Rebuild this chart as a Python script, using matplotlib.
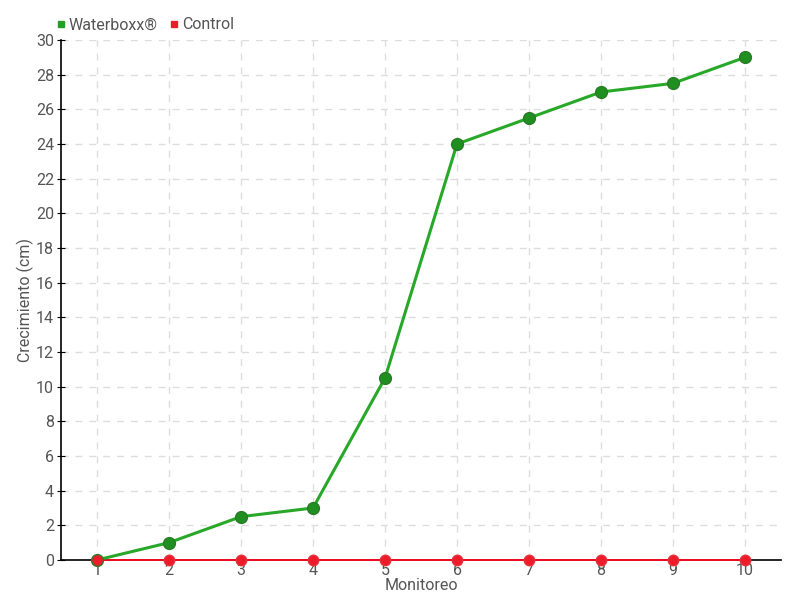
import matplotlib
matplotlib.use('Agg')
import matplotlib.pyplot as plt
from matplotlib.lines import Line2D

plt.rcParams['font.family'] = ['Roboto', 'DejaVu Sans']

monitoreo = [1, 2, 3, 4, 5, 6, 7, 8, 9, 10]
waterboxx = [0, 1, 2.5, 3, 10.5, 24, 25.5, 27, 27.5, 29]
control = [0, 0, 0, 0, 0, 0, 0, 0, 0, 0]
y_ticks = list(range(0, 31, 2))

fig = plt.figure(figsize=(8, 6), dpi=100)
ax = fig.add_axes([0.07625, 0.0667, 0.9, 0.8666])

txt = '#555555'
ax.plot(monitoreo, control, color='#ff0a1e', lw=1.3, marker='o', ms=7.5,
        mfc='#ee1c2a', mec='#e8303a', zorder=3, clip_on=False)
ax.plot(monitoreo, waterboxx, color='#28a828', lw=2.2, marker='o', ms=8.5,
        mfc='#1f8f1f', mec='#2a7a2a', mew=1, zorder=4, clip_on=False)
ax.plot(monitoreo[:1], control[:1], 'o', ms=6.5, mfc='#ee1c2a', mec='#ee1c2a', zorder=5, clip_on=False)

ax.set_xlim(0.5, 10.5)
ax.set_ylim(0, 30)
ax.set_xticks(monitoreo)
ax.set_yticks(y_ticks)
ax.grid(True, color='#dddddd', ls=(0, (5, 5)), lw=1)
ax.set_axisbelow(True)
for s in ['top', 'right']:
    ax.spines[s].set_visible(False)
ax.spines['left'].set_linewidth(1.2)
ax.spines['bottom'].set_linewidth(1.2)
ax.tick_params(axis='y', direction='inout', length=6, colors='black', labelcolor=txt, labelsize=11.5, pad=2)
ax.tick_params(axis='x', length=0, pad=2, labelcolor=txt, labelsize=11.5)

ax.set_xlabel('Monitoreo', color=txt, fontsize=11.5, labelpad=0)
ax.set_ylabel('Crecimiento (cm)', color=txt, fontsize=11.5, labelpad=1)

handles = [Line2D([], [], ls='', marker='s', ms=5, color='#22a022'),
           Line2D([], [], ls='', marker='s', ms=5, color='#ee1c2a')]
fig.legend(handles, ['Waterboxx®', 'Control'], loc='upper left', bbox_to_anchor=(0.05, 0.995),
           ncol=2, frameon=False, fontsize=11.5, labelcolor=txt, handletextpad=0.1,
           columnspacing=0.6, handlelength=0.8)

fig.savefig('out.png', dpi=100)
